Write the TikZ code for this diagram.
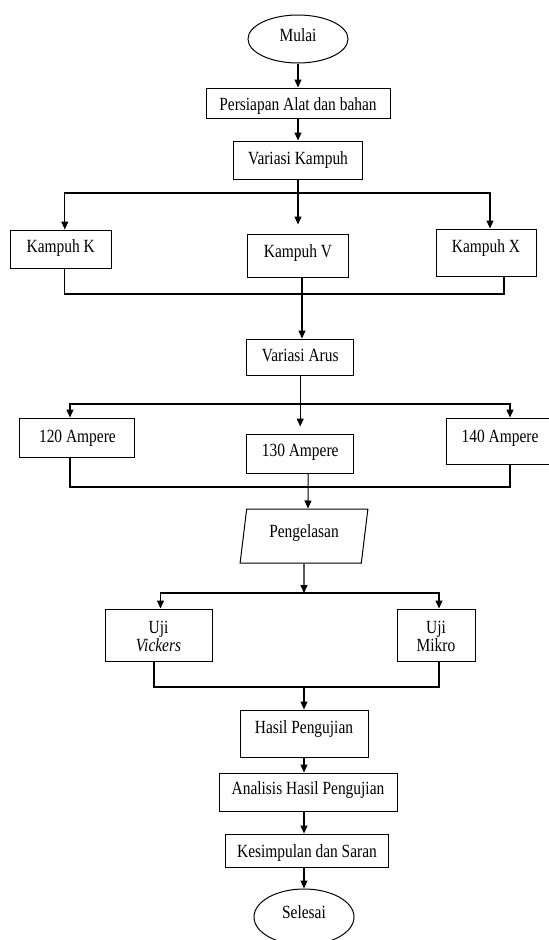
\documentclass[tikz,border=0pt]{standalone}
\usepackage{fontspec}
\setmainfont[FakeStretch=0.83]{Liberation Serif}
\usetikzlibrary{arrows.meta,shapes.geometric}
\newcommand{\boxline}{1pt}
\newcommand{\fsize}{\fontsize{18.6pt}{18pt}\selectfont}

\begin{document}
\begin{tikzpicture}[x=1pt,y=-1pt,font=\fsize,
    kotak/.style n args={3}{draw, line width=\boxline, inner sep=0pt,
        minimum width=#1, text height=#2, text depth=#3},
    ujung/.style={draw, ellipse, line width=\boxline, inner sep=0pt},
    garis/.style={line width=1.1pt},
    arr/.style={line width=1.1pt, -{Triangle[length=8pt,width=7pt]}}]
        \useasboundingbox (0,0) rectangle (549,940);

        \node (mulai) at (298,39) [ujung, minimum width=100pt, minimum height=48pt,
                text height=12pt, text depth=6.6pt] {Mulai};
        \node (persiapan) at (298,103) [kotak={184pt}{22pt}{8pt}] {Persiapan Alat dan bahan};
        \node (vkampuh) at (298,160) [kotak={129pt}{23pt}{15pt}] {Variasi Kampuh};
        \node (kk) at (60.8,249) [kotak={100.5pt}{22pt}{16pt}] {Kampuh K};
        \node (kv) at (298,255.5) [kotak={100.5pt}{23pt}{20pt}] {Kampuh V};
        \node (kx) at (486,252.5) [kotak={100pt}{23pt}{24pt}] {Kampuh X};
        \node (varus) at (300.2,357) [kotak={107pt}{22pt}{14pt}] {Variasi Arus};
        \node (a120) at (77.4,437.5) [kotak={115pt}{24pt}{15pt}] {120 Ampere};
        \node (a130) at (300.2,453.5) [kotak={107pt}{22pt}{17pt}] {130 Ampere};
        \node (a140) at (500,441) [kotak={108pt}{24pt}{22pt}] {140 Ampere};
        \node (peng) at (304,536) [draw, trapezium, line width=\boxline, inner sep=0pt,
                trapezium left angle=77.5, trapezium right angle=102.5,
                trapezium stretches=true, minimum width=128pt, minimum height=54pt,
                text height=10pt, text depth=8pt] {Pengelasan};
        \node (uv) at (158.5,635) [kotak={107pt}{42pt}{10pt}, align=center] {Uji\\\textit{Vickers}};
        \node (um) at (436,635) [kotak={78pt}{42pt}{10pt}, align=center] {Uji\\Mikro};
        \node (hasil) at (304,733.5) [kotak={128pt}{23pt}{24pt}] {Hasil Pengujian};
        \node (analisis) at (308,792) [kotak={178pt}{21pt}{17pt}] {Analisis Hasil Pengujian};
        \node (kesimpulan) at (307,850.5) [kotak={163pt}{23pt}{10pt}] {Kesimpulan dan Saran};
        \node (selesai) at (304,917) [ujung, minimum width=100pt, minimum height=56pt,
                text height=10pt, text depth=8pt] {Selesai};

        % cabang dan gabungan
        \coordinate (cab1) at (298,193);
        \coordinate (gab1) at (302,294);
        \coordinate (cab2) at (300.2,404);
        \coordinate (gab2) at (308,487);
        \coordinate (cab3) at (304,593);
        \coordinate (gab3) at (304,687);

        \draw[arr] (mulai) -- (persiapan);
        \draw[arr] (persiapan) -- (vkampuh);
        \draw[arr] (vkampuh) -- ([yshift=9pt]kv.north);
        \draw[arr] (cab1) -| ([xshift=4pt]kk.north);
        \draw[arr] (cab1) -| ([xshift=4pt]kx.north);
        \draw[garis] ([xshift=4pt]kk.south) |- (gab1) -| ([xshift=18pt]kx.south);
        \draw[arr] ([xshift=4pt]kv.south) -- ([xshift=4pt]kv.south |- varus.north);

        \draw[arr] (varus) -- ([yshift=7pt]a130.north);
        \draw[arr] (cab2) -| ([xshift=-7.4pt]a120.north);
        \draw[arr] (cab2) -| ([xshift=10pt]a140.north);
        \draw[garis] ([xshift=-7.4pt]a120.south) |- (gab2) -| ([xshift=10pt]a140.south);
        \draw[arr] ([xshift=8pt]a130.south) -- (gab2 |- peng.north);

        \draw[arr] (peng.south) -- (cab3);
        \draw[arr] (cab3) -| ([xshift=2pt]uv.north);
        \draw[arr] (cab3) -| ([xshift=3pt]um.north);
        \draw[garis] ([xshift=-4.5pt]uv.south) |- (gab3) -| ([xshift=3pt]um.south);

        \draw[arr] (gab3) -- (hasil);
        \draw[arr] (hasil) -- (hasil |- analisis.north);
        \draw[arr] (analisis.south -| hasil) -- (hasil |- kesimpulan.north);
        \draw[arr] (kesimpulan.south -| hasil) -- (selesai);
\end{tikzpicture}
\end{document}
